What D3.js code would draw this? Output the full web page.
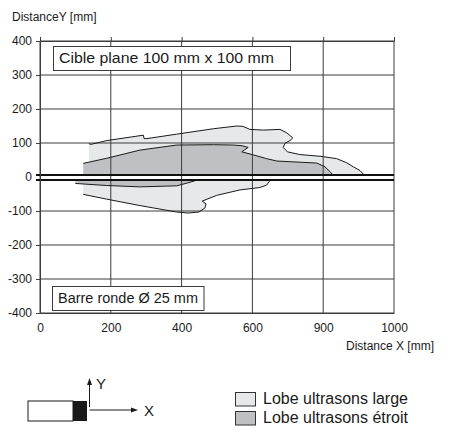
<!DOCTYPE html>
<html><head><meta charset="utf-8">
<script src="https://cdn.jsdelivr.net/npm/d3@7/dist/d3.min.js"></script>
<style>
body{margin:0;background:#fff}
svg{display:block}
text{font-family:"Liberation Sans",Arial,Helvetica,sans-serif;fill:#1a1a1a}
</style>
</head><body>
<svg id="c" width="457" height="445"></svg>
<script>
// ---- data (mm) ----
const xTickValues = [0, 200, 400, 600, 800, 1000];
const xTickLabels = ["0", "200", "400", "600", "900", "1000"];
const yTickValues = [-400, -300, -200, -100, 0, 100, 200, 300, 400];
const upperBase = 6;    // zero line of the "Cible plane" chart
const lowerBase = -9;   // zero line of the "Barre ronde" chart

// Lobe large, cible plane (upper outline)
const largeUpper = [[138,98],[144,96],[188,107],[292,123],[294,113],[302,113],[386,126],[490,142],[556,150],[573,149],[593,140],[631,138],[678,140],[697,130],[714,115],[706,107],[692,99],[687,87],[699,74],[734,66],[791,61],[838,54],[866,42],[885,30],[904,19],[913,9],[915,6]];
// Lobe étroit, cible plane (upper outline)
const narrowUpper = [[122,40],[188,55],[282,79],[386,94],[490,95],[546,94],[571,92],[588,87],[570,74],[603,65],[640,54],[669,47],[706,45],[782,41],[805,30],[819,16],[827,7],[828,6]];
// Lobe large, barre ronde (lower outline)
const largeLower = [[122,-51],[188,-65],[282,-84],[386,-103],[418,-106],[449,-103],[466,-91],[469,-79],[458,-71],[499,-54],[565,-38],[621,-31],[640,-24],[648,-13],[650,-9]];
// Lobe étroit, barre ronde (lower outline)
const narrowLower = [[100,-19],[188,-25],[282,-29],[386,-26],[415,-18],[438,-11],[441,-9]];

const legendLabels = ["Lobe ultrasons large", "Lobe ultrasons étroit"];
const colLarge = "#e7e8ea", colNarrow = "#bfc0c3", ink = "#1a1a1a", gridCol = "#3c3c3c";

// ---- scales ----
const svg = d3.select("#c");
const x = d3.scaleLinear().domain([0, 1000]).range([40, 394]);
const y = d3.scaleLinear().domain([-400, 400]).range([313, 41]);
const line = d3.line().x(d => x(d[0])).y(d => y(d[1]));

function polygon(pts, base) {
  const first = pts[0], last = pts[pts.length - 1];
  return [[first[0], base], ...pts, [last[0], base]];
}

// fills
const fills = svg.append("g");
fills.append("path").attr("d", line(polygon(largeUpper, upperBase)) + "Z").attr("fill", colLarge);
fills.append("path").attr("d", line(polygon(narrowUpper, upperBase)) + "Z").attr("fill", colNarrow);
fills.append("path").attr("d", line(polygon(largeLower, lowerBase)) + "Z").attr("fill", colLarge);
fills.append("path").attr("d", line(polygon(narrowLower, lowerBase)) + "Z").attr("fill", colNarrow);

// grid
const grid = svg.append("g").attr("stroke", gridCol).attr("stroke-width", 1);
grid.selectAll(".v").data(xTickValues).join("line")
  .attr("x1", d => x(d)).attr("x2", d => x(d)).attr("y1", y(400)).attr("y2", y(-400));
grid.selectAll(".h").data(yTickValues.filter(v => v !== 0)).join("line")
  .attr("x1", x(0)).attr("x2", x(1000)).attr("y1", d => y(d)).attr("y2", d => y(d));

// outlines
const outl = svg.append("g").attr("fill", "none").attr("stroke", ink).attr("stroke-width", 1);
[largeUpper, narrowUpper, largeLower, narrowLower].forEach(p => outl.append("path").attr("d", line(p)));

// zero separators
svg.selectAll(".sep").data([upperBase, lowerBase]).join("line")
  .attr("x1", x(0) - 4).attr("x2", x(1000)).attr("y1", d => y(d)).attr("y2", d => y(d))
  .attr("stroke", "#111").attr("stroke-width", 2);

// axes
const yAxis = svg.append("g").attr("transform", `translate(${x(0)},0)`)
  .call(d3.axisLeft(y).tickValues(yTickValues).tickSize(4).tickSizeOuter(0).tickPadding(4)
    .tickFormat(d => String(d)));
yAxis.select(".domain").attr("stroke", gridCol);
yAxis.selectAll(".tick line").attr("stroke", gridCol).filter(d => d === 0).remove();
yAxis.selectAll("text").attr("font-size", 12).attr("font-family", "Liberation Sans, Arial, sans-serif").attr("fill", ink);

const xTop = svg.append("g").attr("transform", `translate(0,${y(400)})`)
  .call(d3.axisTop(x).tickValues(xTickValues).tickSize(4).tickSizeOuter(0).tickFormat(""));
xTop.select(".domain").attr("stroke", gridCol);
xTop.selectAll(".tick line").attr("stroke", gridCol);

const xAxis = svg.append("g").attr("transform", `translate(0,${y(-400)})`)
  .call(d3.axisBottom(x).tickValues(xTickValues).tickSize(0).tickSizeOuter(0).tickPadding(10)
    .tickFormat((d, i) => xTickLabels[i]));
xAxis.select(".domain").attr("stroke", gridCol);
xAxis.selectAll("text").attr("font-size", 12).attr("font-family", "Liberation Sans, Arial, sans-serif").attr("fill", ink);

// axis titles
svg.append("text").attr("x", 12).attr("y", 21).attr("font-size", 12).text("DistanceY [mm]");
svg.append("text").attr("x", 434).attr("y", 350).attr("text-anchor", "end").attr("font-size", 12).text("Distance X [mm]");

// annotation boxes
function box(x0, y0, w, h, label, tl) {
  svg.append("rect").attr("x", x0).attr("y", y0).attr("width", w).attr("height", h)
    .attr("fill", "#fff").attr("stroke", gridCol).attr("stroke-width", 1);
  svg.append("text").attr("x", x0 + 5.5).attr("y", y0 + h - 7.5).attr("font-size", 15.5)
    .attr("textLength", tl).attr("lengthAdjust", "spacingAndGlyphs").text(label);
}
box(53.5, 46.5, 237, 24, "Cible plane 100 mm x 100 mm", 215);
box(52.5, 286.5, 151.5, 24, "Barre ronde Ø 25 mm", 140);

// sensor icon
const icon = svg.append("g");
icon.append("rect").attr("x", 28).attr("y", 401).attr("width", 45).attr("height", 20).attr("fill", "#fff").attr("stroke", ink);
icon.append("rect").attr("x", 73).attr("y", 401).attr("width", 14).attr("height", 20).attr("fill", "#1a1a1a");
icon.append("line").attr("x1", 89.5).attr("x2", 89.5).attr("y1", 407).attr("y2", 383).attr("stroke", ink);
icon.append("path").attr("d", "M89.5,378 L87,385 L92,385 Z").attr("fill", ink);
icon.append("line").attr("x1", 89.5).attr("x2", 133).attr("y1", 410).attr("y2", 410).attr("stroke", ink);
icon.append("path").attr("d", "M138,410 L131,407.5 L131,412.5 Z").attr("fill", ink);
icon.append("text").attr("x", 96).attr("y", 389).attr("font-size", 15).text("Y");
icon.append("text").attr("x", 144).attr("y", 416).attr("font-size", 15).text("X");

// legend
const leg = svg.append("g");
[colLarge, colNarrow].forEach((c, i) => {
  leg.append("rect").attr("x", 235.5).attr("y", 392.5 + i * 19).attr("width", 20).attr("height", 13.5)
    .attr("fill", c).attr("stroke", "#333");
  leg.append("text").attr("x", 263).attr("y", 404 + i * 18.7).attr("font-size", 16).text(legendLabels[i]);
});
</script>
</body></html>
